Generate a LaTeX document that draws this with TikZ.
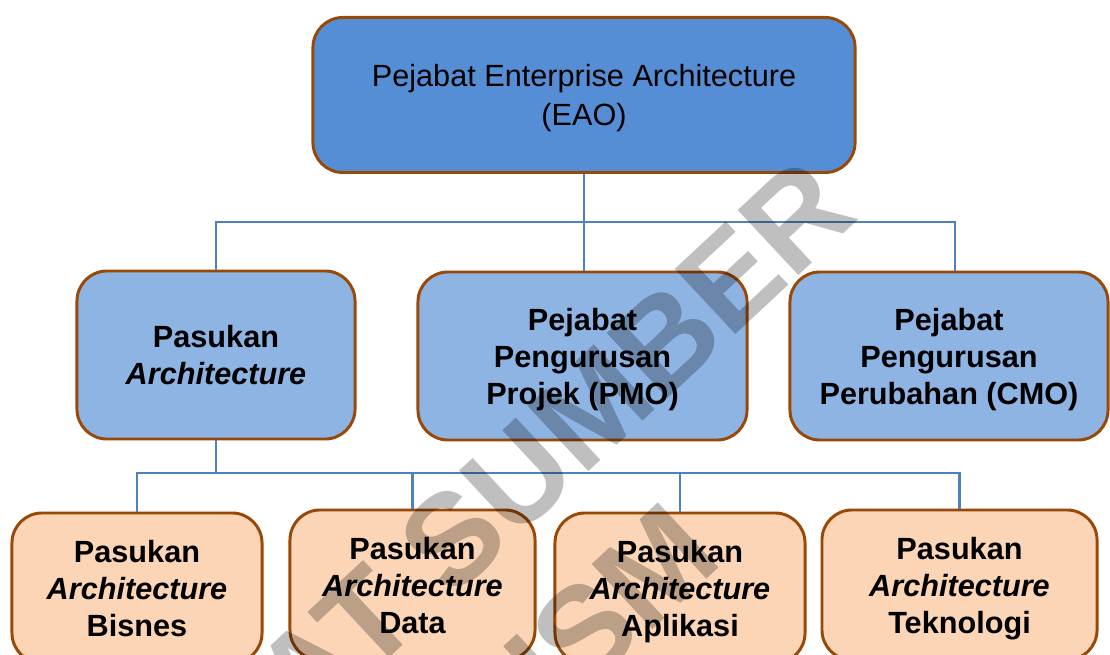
\documentclass[tikz,border=0pt]{standalone}
\usepackage{fontspec}
\setmainfont{Liberation Sans}
\definecolor{eaoblue}{RGB}{85,142,213}
\definecolor{teamblue}{RGB}{142,180,227}
\definecolor{unitpeach}{RGB}{251,213,181}
\definecolor{rimbrown}{RGB}{152,72,7}
\definecolor{linkblue}{RGB}{79,129,189}
\tikzset{ % Common looks of the chart
	orgbox/.style={
		rectangle, rounded corners=0.75cm,
		draw=rimbrown, line width=2.1pt, % Brown rim
		align=center, inner sep=0pt, text depth=0pt,
		font=\fontsize{21.8}{26.3}\selectfont
	},
	headbox/.style={orgbox, fill=eaoblue, minimum width=13.55cm, minimum height=3.875cm,
		font=\fontsize{21.8}{27.4}\selectfont},
	teambox/.style={orgbox, fill=teamblue, minimum height=4.2cm,
		font=\bfseries\fontsize{21.8}{26.3}\selectfont},
	unitbox/.style={orgbox, fill=unitpeach, minimum height=3.75cm,
		font=\bfseries\fontsize{21.8}{26.3}\selectfont},
	link/.style={draw=linkblue, line width=1.6pt},
	watermark/.style={inner sep=0pt, rotate=43, text=black, text opacity=0.25,
		font=\bfseries\fontsize{92}{92}\selectfont}
}

\begin{document}
\begin{tikzpicture}[x=0.025cm, y=-0.025cm]
	\useasboundingbox (0,0) rectangle (1110,655);
	% Top office
	\node[headbox] (eao) at (584,95) {Pejabat Enterprise Architecture\\(EAO)};
	% Second row
	\node[teambox, minimum width=6.95cm] (team) at (216,355) {Pasukan\\\textit{Architecture}};
	\node[teambox, minimum width=8.225cm] (pmo) at (582.5,356) {Pejabat\\Pengurusan\\Projek (PMO)};
	\node[teambox, minimum width=7.95cm] (cmo) at (949,356) {Pejabat\\Pengurusan\\Perubahan (CMO)};
	% Third row
	\node[unitbox, minimum width=6.25cm] (bisnes) at (137,588) {Pasukan\\\textit{Architecture}\\Bisnes};
	\node[unitbox, minimum width=6.125cm] (data) at (412.5,585) {Pasukan\\\textit{Architecture}\\Data};
	\node[unitbox, minimum width=6.25cm] (aplikasi) at (680,588) {Pasukan\\\textit{Architecture}\\Aplikasi};
	\node[unitbox, minimum width=6.875cm] (tekno) at (959.5,585) {Pasukan\\\textit{Architecture}\\Teknologi};
	% Lines to second row
	\coordinate (busA) at (584,222);
	\draw[link] (eao.south) -- (eao.south |- pmo.north);
	\draw[link] (team.north) |- (busA) -| ([xshift=0.15cm]cmo.north);
	% Lines to third row
	\coordinate (busB) at (216,473);
	\draw[link] (team.south) -- (busB);
	\draw[link] (bisnes.north) |- (busB) -| (tekno.north);
	\draw[link] (data.north) -- (data.north |- busB);
	\draw[link] (aplikasi.north) -- (aplikasi.north |- busB);
	% Watermark
	\node[watermark] (wmtop) at (456,535) {PUSAT SUMBER};
	\node[watermark] (wmlow) at (590,627) {USM};
\end{tikzpicture}
\end{document}
